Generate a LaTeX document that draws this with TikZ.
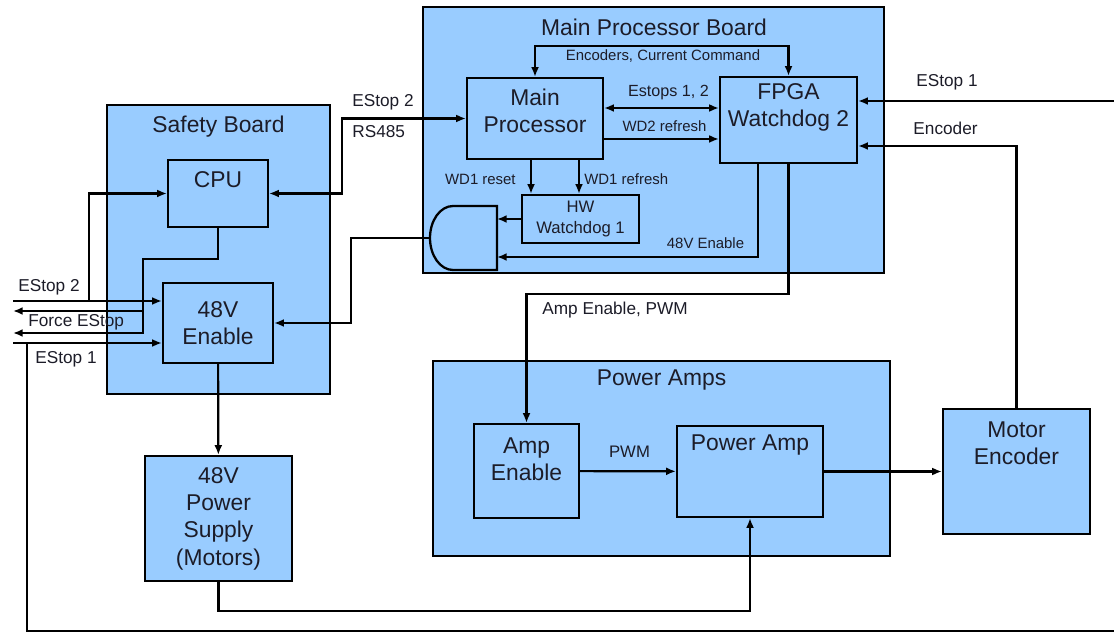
\documentclass[tikz,border=0pt]{standalone}
\usepackage{fontspec}
\setmainfont{Liberation Sans}
\usetikzlibrary{arrows.meta}
\definecolor{boardblue}{RGB}{153,204,255}
\definecolor{inkc}{RGB}{28,28,40}

\begin{document}
\begin{tikzpicture}[x=0.02cm,y=-0.02cm,
  blk/.style={draw=black,fill=boardblue,line width=1.3pt,inner sep=0pt},
  big/.style={text=inkc,font=\fontsize{13}{15.6}\selectfont,align=center,inner sep=0pt},
  lbl/.style={text=inkc,font=\fontsize{9.8}{11.8}\selectfont,inner sep=0pt},
  sml/.style={text=inkc,font=\fontsize{8.5}{10.2}\selectfont,inner sep=0pt},
  wire/.style={line width=1.25pt},
  arr/.style={wire,-{Latex[length=5.5pt,width=4.5pt]}},
  arrs/.style={wire,{Latex[length=5.5pt,width=4.5pt]}-{Latex[length=5.5pt,width=4.5pt]}}]
\useasboundingbox (0,0) rectangle (1114,634);

\node[blk,minimum width=4.46cm,minimum height=5.78cm](safety) at (218.5,249.5){};
\node[blk,minimum width=9.22cm,minimum height=5.32cm](mpb) at (653.5,140){};
\node[blk,minimum width=9.14cm,minimum height=3.9cm](amps) at (661.5,458.5){};
\node[big](safety-t) at (218.5,127){Safety Board};
\node[big](mpb-t) at (654,27.5){Main Processor Board};
\node[big](amps-t) at (661.5,380){Power Amps};

\node[blk,minimum width=2.0cm,minimum height=1.34cm](cpu) at (218,193.5){};
\node[big](cpu-t) at (218,180){CPU};
\node[blk,big,minimum width=2.2cm,minimum height=1.6cm](en48) at (218,323){48V\\Enable};
\node[blk,big,minimum width=2.94cm,minimum height=2.5cm](psu) at (218.5,518.5){48V\\Power\\Supply\\(Motors)};
\node[blk,minimum width=2.72cm,minimum height=1.62cm](mproc) at (535,118.5){};
\node[big](mproc-t) at (535,111){Main\\Processor};
\node[blk,minimum width=2.74cm,minimum height=1.72cm](fpga) at (788.5,120){};
\node[big](fpga-t) at (788.5,107.5){FPGA\\Watchdog 2};
\node[blk,big,font=\fontsize{9.5}{11.4}\selectfont,minimum width=2.34cm,minimum height=0.96cm](hwwd) at (580.5,219){HW\\Watchdog 1};
\node[blk,minimum width=2.1cm,minimum height=1.88cm](ampen) at (526.5,471){};
\node[big](ampen-t) at (526.5,459){Amp\\Enable};
\node[blk,minimum width=2.92cm,minimum height=1.82cm](pamp) at (750,471.5){};
\node[big](pamp-t) at (750,445.5){Power Amp};
\node[blk,minimum width=2.94cm,minimum height=2.5cm](menc) at (1016.5,471.5){};
\node[big](menc-t) at (1016.5,443.5){Motor\\Encoder};

\draw[blk] (497,206) -- (453,206) .. controls (440.3,206) and (430,220.3) .. (430,238)
  .. controls (430,255.7) and (440.3,270) .. (453,270) -- (497,270) -- cycle;
\coordinate (gout) at (430,238);
\coordinate (gin1) at (497,219);
\coordinate (gin2) at (497,257);

\coordinate (es2) at (13,301);
\coordinate (j2) at (89,301);
\coordinate (fs1) at (13,311);
\coordinate (jf) at (143,311);
\coordinate (fs2) at (13,333);
\coordinate (es1) at (13,343);
\coordinate (j1) at (27,343);
\coordinate (loopr) at (1114,631);
\coordinate (ein) at (1114,101);
\coordinate (e12) at ([yshift=0.21cm]mproc.east);
\coordinate (wd2) at ([yshift=-0.41cm]mproc.east);
\coordinate (wr) at ([xshift=-0.08cm]mproc.south);
\coordinate (wf) at ([xshift=0.88cm]mproc.south);
\coordinate (fe) at ([xshift=-0.61cm]fpga.south);
\coordinate (fenc) at ([yshift=-0.52cm]fpga.east);

\draw[arr] (es2) -- (es2 -| en48.west);
\draw[arr] (j2) |- (cpu.west);
\draw[arr] (cpu.south) -- ++(0,31) -- ++(-75,0) |- (fs2);
\draw[arr] (jf) -- (fs1);
\draw[arr] (es1) -- (es1 -| en48.west);
\draw[wire] (j1) |- (loopr);
\draw[arrs] (cpu.east) -- ++(73,0) |- (mproc.west);
\draw[arr] (gout) -- ++(-79,0) |- (en48.east);
\draw[arr] (en48) -- (psu);
\draw[arr] (psu.south) -- ++(0,29) -| (pamp.south);

\draw[arrs] (mproc.north) -- ++(0,-31) -| (fpga.north);
\draw[arrs] (e12) -- (e12 -| fpga.west);
\draw[arr] (wd2) -- (wd2 -| fpga.west);
\draw[arr] (wr) -- (wr |- hwwd.north);
\draw[arr] (wf) -- (wf |- hwwd.north);
\draw[arr] (hwwd.west) -- (gin1);
\draw[arr] (fe) |- (gin2);
\draw[arr] (fpga.south) -- ++(0,130) -| (ampen.north);
\draw[arr] (ein) -- (ein -| fpga.east);
\draw[arr] (menc.north) |- (fenc);
\draw[arr] (ampen) -- (pamp);
\draw[arr] (pamp) -- (menc);

\node[lbl,anchor=west](l-es2) at (18,287.5){EStop 2};
\node[lbl,anchor=west](l-force) at (28,322){Force EStop};
\node[lbl,anchor=west](l-es1) at (35,359){EStop 1};
\node[lbl,anchor=west](l-es2b) at (352,102){EStop 2};
\node[lbl,anchor=west](l-rs) at (352,132){RS485};
\node[sml](l-enc) at (663,56){Encoders, Current Command};
\node[sml,font=\fontsize{9.2}{11}\selectfont](l-es12) at (668.5,93){Estops 1, 2};
\node[sml](l-wd2) at (664.5,126){WD2 refresh};
\node[sml,anchor=east](l-wr) at (516,179){WD1 reset};
\node[sml,anchor=west](l-wf) at (584,179){WD1 refresh};
\node[sml](l-en) at (705.5,243){48V Enable};
\node[lbl](l-es1b) at (947,82.5){EStop 1};
\node[lbl](l-encr) at (945.5,128.5){Encoder};
\node[lbl,anchor=west](l-amp) at (542,310.5){Amp Enable, PWM};
\node[lbl,font=\fontsize{9.5}{11.4}\selectfont](l-pwm) at (629.5,452){PWM};
\end{tikzpicture}
\end{document}
